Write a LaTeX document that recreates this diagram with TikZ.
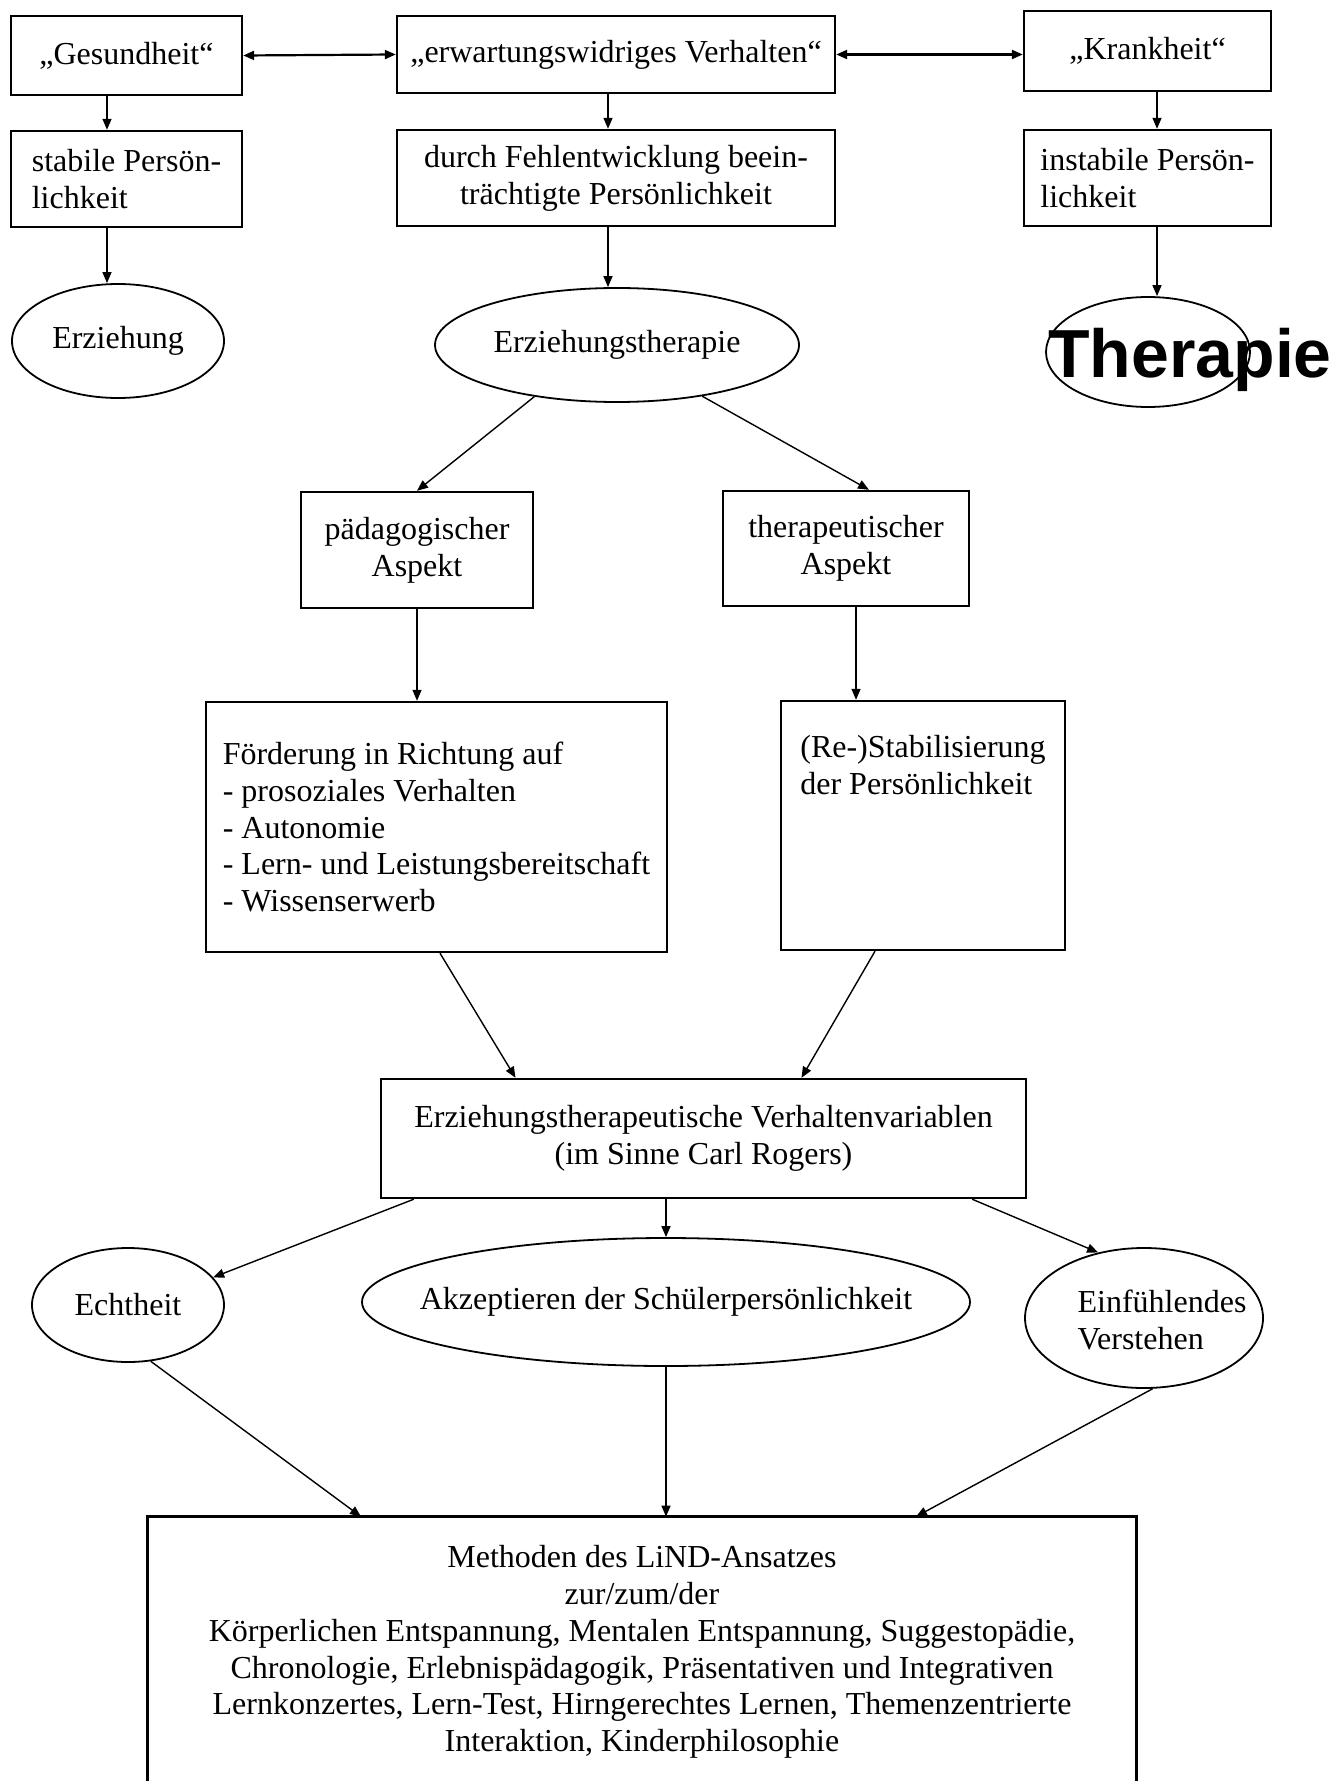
\documentclass[tikz,border=0pt]{standalone}
\usepackage{fontspec}
\setmainfont{Liberation Serif}
\newfontfamily\markerfont{Liberation Sans}
\usetikzlibrary{arrows.meta,shapes.geometric}
\begin{document}
\begin{tikzpicture}[x=0.5pt,y=-0.5pt,
  every node/.style={font=\fontsize{16}{18.4}\selectfont},
  box/.style={draw, line width=1.2pt, rectangle, inner sep=0pt, align=center},
  oval/.style={draw, line width=0.9pt, ellipse, inner sep=0pt, align=center},
  arr/.style={line width=0.7pt, -{Triangle[length=5.5pt,width=4.5pt]}},
  darr/.style={line width=1.1pt, {Triangle[length=5.5pt,width=4.5pt]}-{Triangle[length=5.5pt,width=4.5pt]}},
]
\fill[white] (0,0) rectangle (1343,1781);
\useasboundingbox (0,0) rectangle (1343,1781);

% row 1
\node[box, minimum width=115.5pt, minimum height=39.5pt] (G) at (126.5,55.5) {„Gesundheit“};
\node[box, minimum width=219pt, minimum height=38.5pt] (E) at (616,54.5) {„erwartungswidriges Verhalten“};
\node[box, minimum width=123.5pt, minimum height=40pt] (K) at (1147.5,51) {„Krankheit“};
% row 2
\node[box, align=left, minimum width=115.5pt, minimum height=48pt] (S) at (126.5,179) {stabile Persön-\\lichkeit};
\node[box, minimum width=219pt, minimum height=48pt] (D) at (616,178) {durch Fehlentwicklung beein-\\trächtigte Persönlichkeit};
\node[box, align=left, minimum width=123.5pt, minimum height=48pt] (I) at (1147.5,178) {instabile Persön-\\lichkeit};
% row 3
\node[oval, minimum width=106pt, minimum height=57pt] (Erz) at (118,341) {Erziehung};
\node[oval, minimum width=182pt, minimum height=57pt] (ET) at (617,345) {Erziehungstherapie};
\node[oval, minimum width=102pt, minimum height=55pt,
  label={[anchor=center, xshift=21pt, yshift=-4pt, font=\markerfont\bfseries\fontsize{34}{34}\selectfont]center:Therapie}] (Th) at (1148,352) {};
% aspects
\node[box, minimum width=116pt, minimum height=58pt] (P) at (417,550) {pädagogischer\\Aspekt};
\node[box, minimum width=123pt, minimum height=57.5pt] (T) at (846,548.5) {therapeutischer\\Aspekt};
% goals
\node[box, align=left, minimum width=230.5pt, minimum height=125pt] (F) at (436.5,827) {Förderung in Richtung auf\\- prosoziales Verhalten\\- Autonomie\\- Lern- und Leistungsbereitschaft\\- Wissenserwerb};
\node[box, align=left, minimum width=142pt, minimum height=124.5pt] (R) at (923,825.5) {(Re-)Stabilisierung\\der Persönlichkeit\\\strut\\\strut\\\strut};
% variables
\node[box, minimum width=322.5pt, minimum height=59.5pt] (V) at (703.5,1138.5) {Erziehungstherapeutische Verhaltenvariablen\\(im Sinne Carl Rogers)};
\node[oval, minimum width=96pt, minimum height=57pt] (Ech) at (128,1305) {Echtheit};
\node[oval, inner xsep=-20pt, minimum width=304pt, minimum height=64pt] (Akz) at (666,1302) {Akzeptieren der Schülerpersönlichkeit};
\node[oval, minimum width=119pt, minimum height=70pt,
  label={[anchor=center, align=left, xshift=9pt, yshift=-1pt]center:Einfühlendes\\Verstehen}] (Ein) at (1144,1318) {};
% methods
\node[inner sep=0pt, align=center, minimum width=494pt, minimum height=131pt] (M) at (642,1652) {Methoden des LiND-Ansatzes\\zur/zum/der\\Körperlichen Entspannung, Mentalen Entspannung, Suggestopädie,\\Chronologie, Erlebnispädagogik, Präsentativen und Integrativen\\Lernkonzertes, Lern-Test, Hirngerechtes Lernen, Themenzentrierte\\Interaktion, Kinderphilosophie};
\draw[line width=1.2pt] ([yshift=-2pt]M.south west) -- ([yshift=2pt]M.north west) -- ([yshift=2pt]M.north east) -- ([yshift=-2pt]M.south east);

% connectors
\draw[darr] (G.east) -- (E.west);
\draw[darr] (E.east) -- (E.east -| K.west);
\draw[arr] ([xshift=-9.75pt]G.south) -- ([xshift=-9.75pt]G.south |- S.north);
\draw[arr] ([xshift=-4pt]E.south) -- ([xshift=-4pt]E.south |- D.north);
\draw[arr] ([xshift=4.75pt]K.south) -- ([xshift=4.75pt]K.south |- I.north);
\draw[arr] ([xshift=-9.75pt]S.south) -- ([xshift=-9.75pt]S.south |- Erz.north);
\draw[arr] ([xshift=-4pt]D.south) -- ([xshift=-4pt]D.south |- ET.north);
\draw[arr] ([xshift=4.75pt]I.south) -- ([xshift=4.75pt]I.south |- Th.north);
\draw[arr] (ET.212) -- (P.north);
\draw[arr] (ET.329) -- ([xshift=11.5pt]T.north);
\draw[arr] (P.south) -- (P.south |- F.north);
\draw[arr] ([xshift=5pt]T.south) -- ([xshift=5pt]T.south |- R.north);
\draw[arr] ([xshift=1.75pt]F.south) -- ([xshift=-94pt]V.north);
\draw[arr] ([xshift=-24pt]R.south) -- ([xshift=49pt]V.north);
\draw[arr] ([xshift=17pt]V.south west) -- (Ech.18);
\draw[arr] ([xshift=-18.75pt]V.south) -- (Akz.north);
\draw[arr] ([xshift=-27.5pt]V.south east) -- (Ein.125);
\draw[arr] (Ech.292) -- ([xshift=-140.5pt,yshift=2pt]M.north);
\draw[arr] (Akz.south) -- ([yshift=2pt]Akz.south |- M.north);
\draw[arr] (Ein.277) -- ([xshift=137pt,yshift=2pt]M.north);
\end{tikzpicture}
\end{document}
